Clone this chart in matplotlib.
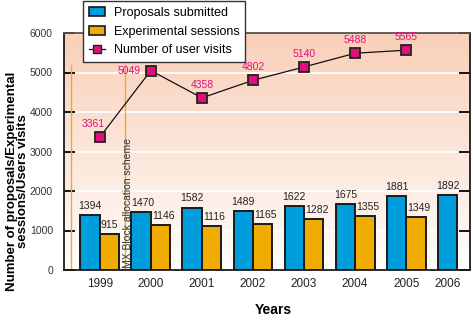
import numpy as np
import matplotlib.pyplot as plt
from matplotlib.patches import Patch
from matplotlib.lines import Line2D

years = ['1999', '2000', '2001', '2002', '2003', '2004', '2005', '2006']
proposals = [1394, 1470, 1582, 1489, 1622, 1675, 1881, 1892]
sessions = [915, 1146, 1116, 1165, 1282, 1355, 1349]
visits = [3361, 5049, 4358, 4802, 5140, 5488, 5565]

blue = '#009ddc'
orange = '#f0ac00'
pink = '#e0107a'
narrow = ['Liberation Sans Narrow', 'Liberation Sans', 'DejaVu Sans']

plt.rcParams['font.family'] = ['Liberation Sans', 'DejaVu Sans']

fig = plt.figure(figsize=(4.73, 3.22), dpi=100)
ax = fig.add_axes([64/473, 1-270/322, 406/473, 237/322])

w = 0.38
x = np.arange(len(years))

# peach-to-white background
grad = np.linspace(0, 1, 256)[:, None]
top = np.array([249, 208, 185]) / 255
bot = np.array([255, 255, 255]) / 255
img = bot + (top - bot) * grad[..., None] ** 0.9
img = np.repeat(img, 2, axis=1)
ax.imshow(img, origin='lower', aspect='auto', extent=(-0.7, 7.25, 0, 6000), zorder=0)

for yv in range(1000, 6000, 1000):
    ax.axhline(yv, color='white', lw=1.3, zorder=1)

# markers for the allocation scheme change
ax.plot([-0.56, -0.56], [0, 5200], color='#f0a830', lw=1, zorder=2)
ax.plot([0.5, 0.5], [0, 5200], color='#f0a830', lw=1, zorder=2)
ax.text(0.545, 60, 'MX Block allocation scheme', rotation=90, ha='center', va='bottom',
        fontsize=7.5, color='#333333', family=narrow, zorder=3)

xb = x - w/2
xo = x[:len(sessions)] + w/2
ax.bar(xb, proposals, width=w, color=blue, edgecolor='#1a1a1a', lw=1.4, zorder=3)
ax.bar(xo, sessions, width=w, color=orange, edgecolor='#1a1a1a', lw=1.4, zorder=3)

for i, (xi, v) in enumerate(zip(xb, proposals)):
    ax.annotate(str(v), (xi, v), xytext=(1.5 if i == 1 else 0, 3), textcoords='offset points',
                ha='center', va='bottom', fontsize=7.5, color='#222222', family=narrow)
for i, (xi, v) in enumerate(zip(xo, sessions)):
    ax.annotate(str(v), (xi, v), xytext=(0 if i == 0 else 2, 3), textcoords='offset points',
                ha='center', va='bottom', fontsize=7.5, color='#222222', family=narrow)

xl = x[:len(visits)]
ax.plot(xl, visits, color='#111111', lw=0.9, marker='s', ms=7, mfc=pink, mec='#222222',
        mew=1.3, zorder=4)
offs = [(-5, 6), (-7, 0), (0, 6), (0, 6), (0, 6), (0, 6), (0, 6)]
for i, (xi, v) in enumerate(zip(xl, visits)):
    dx, dy = offs[i]
    if i == 1:
        ha, va = 'right', 'center'
    else:
        ha, va = 'center', 'bottom'
    ax.annotate(str(v), (xi, v), xytext=(dx, dy), textcoords='offset points',
                ha=ha, va=va, fontsize=7.5, color=pink, family=narrow)

ax.set_xlim(-0.7, 7.25)
ax.set_ylim(0, 6000)
xt = list(x[:7]) + [7 - w/2]
ax.set_xticks(xt)
ax.set_xticklabels(years, fontsize=8.5, color='#222222')
ax.tick_params(axis='x', length=0, pad=6)
ax.set_yticks(range(0, 6001, 1000))
ax.tick_params(axis='y', direction='in', length=8, width=1.3, labelsize=7.5,
               labelcolor='#333333', right=True, pad=8)
for s in ax.spines.values():
    s.set_linewidth(1.3)
    s.set_color('#1a1a1a')
ax.spines['top'].set_color('#555555')

ax.set_xlabel('Years', fontsize=10, fontweight='bold')
ax.xaxis.set_label_coords(0.515, -0.14)
ax.set_ylabel('Number of proposals/Experimental\nsessions/Users visits', fontsize=9.5,
              fontweight='bold', linespacing=0.95)
ax.yaxis.set_label_coords(-0.085, 0.375)

handles = [Patch(facecolor=blue, edgecolor='#1a1a1a', lw=1.2),
           Patch(facecolor=orange, edgecolor='#1a1a1a', lw=1.2),
           Line2D([], [], color='#111111', lw=0.9, marker='s', ms=6, mfc=pink, mec='#222222')]
leg = ax.legend(handles, ['Proposals submitted', 'Experimental sessions', 'Number of user visits'],
                loc='upper left', bbox_to_anchor=(0.047, 1.135), fontsize=9, fancybox=False,
                framealpha=1, edgecolor='#333333', handlelength=1.3, handleheight=0.7,
                borderpad=0.45, labelspacing=0.55, handletextpad=0.7, borderaxespad=0)
leg.get_frame().set_linewidth(1.0)
leg.set_zorder(10)

fig.savefig('out.png', dpi=100)
